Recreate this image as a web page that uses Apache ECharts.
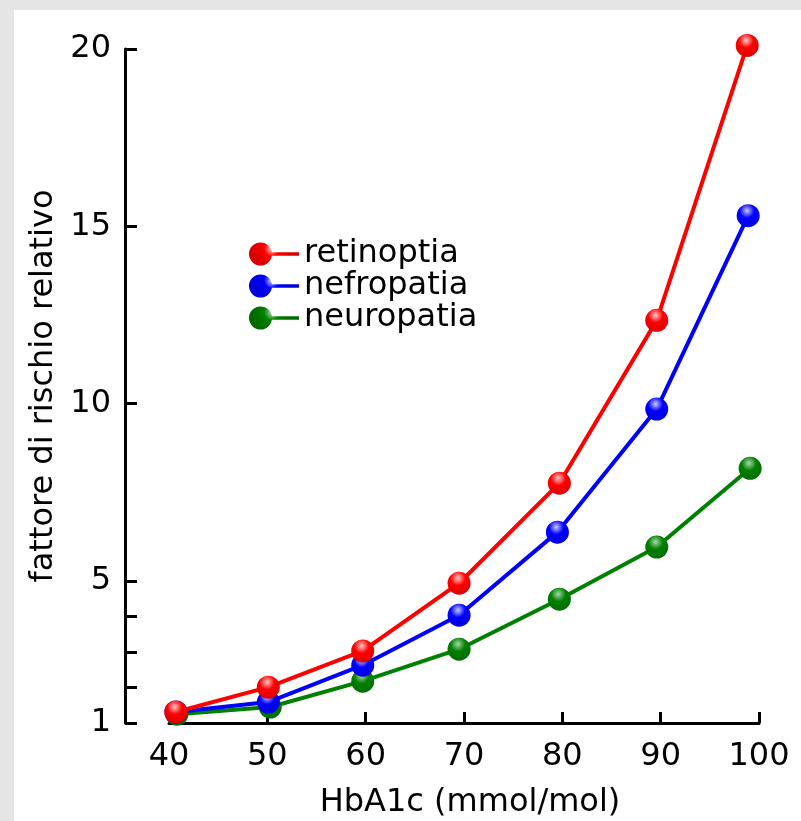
<!DOCTYPE html>
<html><head><meta charset="utf-8">
<script src="https://cdn.jsdelivr.net/npm/echarts@6/dist/echarts.min.js"></script>
<style>
html,body{margin:0;padding:0;background:#e5e5e5;}
#c{position:absolute;left:14px;top:10px;width:787px;height:811px;background:#fff;}
</style></head>
<body><div id="c"></div>
<script>
const seriesNames = ['retinoptia', 'nefropatia', 'neuropatia'];
const seriesColors = ['#ff0000', '#0000ff', '#008000'];
const retinoptiaX = [40.7, 50.1, 59.7, 69.5, 79.7, 89.6, 98.8];
const retinoptiaY = [1.31, 2.01, 3.03, 4.94, 7.76, 12.35, 20.1];
const nefropatiaX = [40.7, 50.1, 59.7, 69.5, 79.5, 89.6, 98.9];
const nefropatiaY = [1.31, 1.59, 2.63, 4.04, 6.38, 9.85, 15.3];
const neuropatiaX = [40.8, 50.3, 59.7, 69.5, 79.7, 89.6, 99.1];
const neuropatiaY = [1.25, 1.45, 2.18, 3.08, 4.49, 5.96, 8.18];
const xTickLabels = [40, 50, 60, 70, 80, 90, 100];
const xTicks = [50, 60, 70, 80, 90, 100];
const yTickLabels = [1, 5, 10, 15, 20];
const yTicks = [1, 2, 3, 4, 5, 10, 15, 20];

const xs = [retinoptiaX, nefropatiaX, neuropatiaX];
const ys = [retinoptiaY, nefropatiaY, neuropatiaY];
const light = ['#ffc8c8', '#c8c8ff', '#a8d8a8'];
const dark = ['#d80000', '#0000d8', '#006a00'];

function sphere(i) {
  return {
    type: 'radial', x: 0.45, y: 0.28, r: 0.8,
    colorStops: [
      {offset: 0, color: light[i]},
      {offset: 0.4, color: seriesColors[i]},
      {offset: 1, color: dark[i]}
    ]
  };
}

const font = 'DejaVu Sans';
const chart = echarts.init(document.getElementById('c'));
chart.setOption({
  animation: false,
  backgroundColor: '#ffffff',
  textStyle: {fontFamily: font},
  grid: {left: 155, right: 42, top: 39, bottom: 98, outerBoundsMode: 'none', containLabel: false},
  legend: {
    orient: 'vertical', left: 235, top: 228, padding: 0,
    itemWidth: 50, itemHeight: 23, itemGap: 0,
    icon: 'path://M0,11.5A11.5,11.5 0 1 1 23,11.5A11.5,11.5 0 1 1 0,11.5ZM20,9.75L50,9.75L50,13.25L20,13.25Z',
    textStyle: {fontFamily: font, fontSize: 32, lineHeight: 32, color: '#000'},
    data: seriesNames
  },
  xAxis: {
    type: 'value', min: 40, max: 100,
    name: 'HbA1c (mmol/mol)', nameLocation: 'middle', nameGap: 64,
    nameTextStyle: {fontFamily: font, fontSize: 32, color: '#000', padding: [0, 0, 0, 12]},
    axisLine: {show: true, lineStyle: {color: '#000', width: 3}},
    axisTick: {show: true, inside: true, length: 11, lineStyle: {color: '#000', width: 3}, customValues: xTicks},
    axisLabel: {fontFamily: font, fontSize: 32, color: '#000', margin: 18, customValues: xTickLabels},
    splitLine: {show: false}
  },
  yAxis: {
    type: 'value', min: 1, max: 20, offset: 44,
    name: 'fattore di rischio relativo', nameLocation: 'middle', nameGap: 60, nameRotate: 90,
    nameTextStyle: {fontFamily: font, fontSize: 32, color: '#000'},
    axisLine: {show: true, lineStyle: {color: '#000', width: 3}},
    axisTick: {show: true, inside: true, length: 12, lineStyle: {color: '#000', width: 3}, customValues: yTicks},
    axisLabel: {fontFamily: font, fontSize: 32, color: '#000', margin: 14, customValues: yTickLabels},
    splitLine: {show: false}
  },
  series: seriesNames.map((n, i) => ({
    name: n, type: 'line', clip: false,
    data: xs[i].map((x, j) => [x, ys[i][j]]),
    symbol: 'circle', symbolSize: 23,
    lineStyle: {color: seriesColors[i], width: 4},
    itemStyle: {color: sphere(i), borderWidth: 0},
    z: 10 - i
  }))
});
</script></body></html>
